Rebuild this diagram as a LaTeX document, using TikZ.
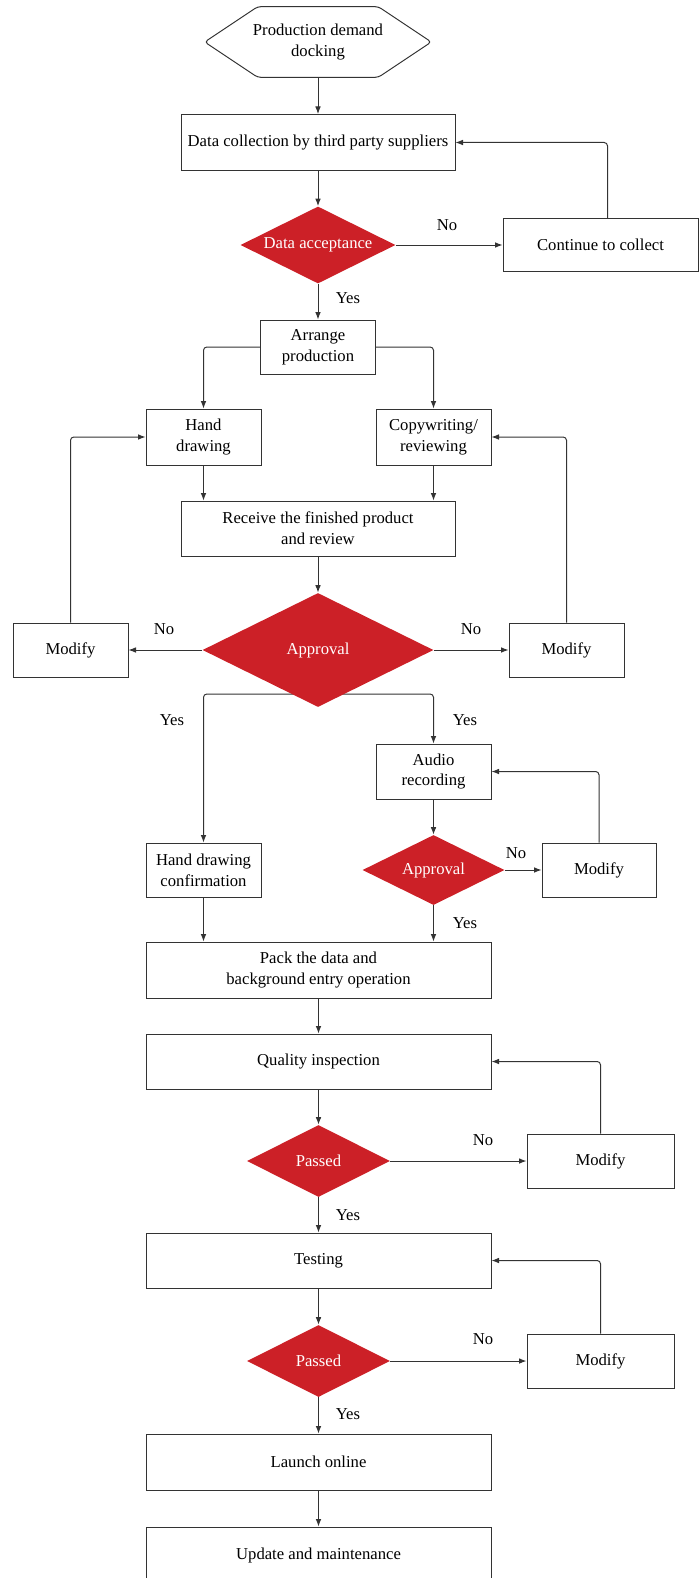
\documentclass[tikz,border=0pt]{standalone}
\usepackage{fontspec}
\setmainfont{Liberation Serif}
\usetikzlibrary{shapes.geometric,arrows.meta,backgrounds}
\definecolor{flowred}{RGB}{204,32,39}
\tikzstyle{every node}=[inner sep=0pt, align=center]
\tikzstyle{box}=[draw=black!80, line width=0.6pt, rectangle, minimum width=69pt, minimum height=33pt]
\tikzstyle{wide}=[box, minimum width=207pt, minimum height=33.6pt]
\tikzstyle{mid}=[box, minimum width=164.4pt, minimum height=33.6pt]
\tikzstyle{decision}=[diamond, aspect=2, fill=flowred, text=white, minimum width=85.8pt, minimum height=43.2pt]
\tikzstyle{terminal}=[minimum width=135.6pt, minimum height=42pt]
\tikzstyle{line}=[draw=black!80, line width=0.6pt, rounded corners=2pt]
\tikzstyle{arrow}=[line, -{Latex[length=4.5pt,width=3.4pt]}]

\begin{document}
\begin{tikzpicture}[x=0.6pt, y=-0.6pt, font=\fontsize{10}{12.5}\selectfont]
  \useasboundingbox (0,0) rectangle (699,1578);
  \node[terminal] (start) at (318,42) {Production demand\\docking};
  \draw[line] (start.west) -- ([xshift=31.8pt]start.north west) -- ([xshift=-31.8pt]start.north east)
    -- (start.east) -- ([xshift=-31.8pt]start.south east) -- ([xshift=31.8pt]start.south west) -- cycle;
  \node[mid] (collect) at (318,142.5) {Data collection by third party suppliers};
  \node[decision, minimum width=93pt, minimum height=46.2pt] (accept) at (318,245) {Data acceptance};
  \node[box, minimum width=117pt, minimum height=31.8pt] (cont) at (600.5,245) {Continue to collect};
  \node[box, minimum height=32.4pt] (arrange) at (318,347) {Arrange\\production};
  \node[box, minimum height=33.6pt] (hand) at (203.5,437) {Hand\\drawing};
  \node[box, minimum height=33.6pt] (copy) at (433.5,437) {Copywriting/\\reviewing};
  \node[mid, minimum height=33pt] (receive) at (318,528.5) {Receive the finished product\\and review};
  \node[decision, minimum width=138.6pt, minimum height=68.4pt] (approve) at (318,650) {Approval};
  \node[box, minimum height=32.4pt] (modl) at (70.5,650) {Modify};
  \node[box, minimum height=32.4pt] (modr) at (566.5,650) {Modify};
  \node[box] (audio) at (433.5,771.5) {Audio\\recording};
  \node[decision, minimum width=85.2pt, minimum height=42pt] (appr2) at (433.5,870) {Approval};
  \node[box, minimum width=68.4pt, minimum height=32.4pt] (mod3) at (599,870) {Modify};
  \node[box, minimum height=32.4pt] (hdconf) at (203.5,870) {Hand drawing\\confirmation};
  \node[wide] (pack) at (318.5,970) {Pack the data and\\background entry operation};
  \node[wide, minimum height=33pt] (qi) at (318.5,1061.5) {Quality inspection};
  \node[decision] (pass1) at (318.5,1161) {Passed};
  \node[box, minimum width=88.2pt, minimum height=32.4pt] (mod4) at (600.5,1161) {Modify};
  \node[wide, minimum height=33pt] (test) at (318.5,1260.5) {Testing};
  \node[decision] (pass2) at (318.5,1361) {Passed};
  \node[box, minimum width=88.2pt, minimum height=32.4pt] (mod5) at (600.5,1361) {Modify};
  \node[wide] (launch) at (318.5,1462) {Launch online};
  \node[wide] (update) at (318.5,1555) {Update and maintenance};

  \node (no1) at (447,225) {No};
  \node (yes1) at (348,298) {Yes};
  \node (no2) at (164,629) {No};
  \node (no3) at (471,629) {No};
  \node (yes2) at (172,720) {Yes};
  \node (yes3) at (465,720) {Yes};
  \node (no4) at (516,853) {No};
  \node (yes4) at (465,923) {Yes};
  \node (no5) at (483,1140) {No};
  \node (yes5) at (348,1215) {Yes};
  \node (no6) at (483,1339) {No};
  \node (yes6) at (348,1414) {Yes};
  \coordinate (fork) at (318,694);

  \begin{scope}[on background layer]
    \draw[arrow] (start) -- (collect);
    \draw[arrow] (collect) -- (accept);
    \draw[arrow] (accept.east) -- (cont.west);
    \draw[arrow] ([xshift=4.2pt]cont.north) |- (collect.east);
    \draw[arrow] (accept) -- (arrange);
    \draw[arrow] (arrange.west) -| (hand.north);
    \draw[arrow] (arrange.east) -| (copy.north);
    \draw[arrow] (hand) -- (hand |- receive.north);
    \draw[arrow] (copy) -- (copy |- receive.north);
    \draw[arrow] (receive) -- (approve);
    \draw[arrow] (approve.west) -- (modl.east);
    \draw[arrow] (approve.east) -- (modr.west);
    \draw[arrow] (modl.north) |- (hand.west);
    \draw[arrow] (modr.north) |- (copy.east);
    \draw[arrow] (fork) -| (hdconf.north);
    \draw[arrow] (fork) -| (audio.north);
    \draw[arrow] (audio) -- (appr2);
    \draw[arrow] (appr2.east) -- (mod3.west);
    \draw[arrow] (mod3.north) |- (audio.east);
    \draw[arrow] (appr2) -- (appr2 |- pack.north);
    \draw[arrow] (hdconf) -- (hdconf |- pack.north);
    \draw[arrow] (pack) -- (qi);
    \draw[arrow] (qi) -- (pass1);
    \draw[arrow] (pass1.east) -- (mod4.west);
    \draw[arrow] (mod4.north) |- (qi.east);
    \draw[arrow] (pass1) -- (test);
    \draw[arrow] (test) -- (pass2);
    \draw[arrow] (pass2.east) -- (mod5.west);
    \draw[arrow] (mod5.north) |- (test.east);
    \draw[arrow] (pass2) -- (launch);
    \draw[arrow] (launch) -- (update);
  \end{scope}
\end{tikzpicture}
\end{document}
